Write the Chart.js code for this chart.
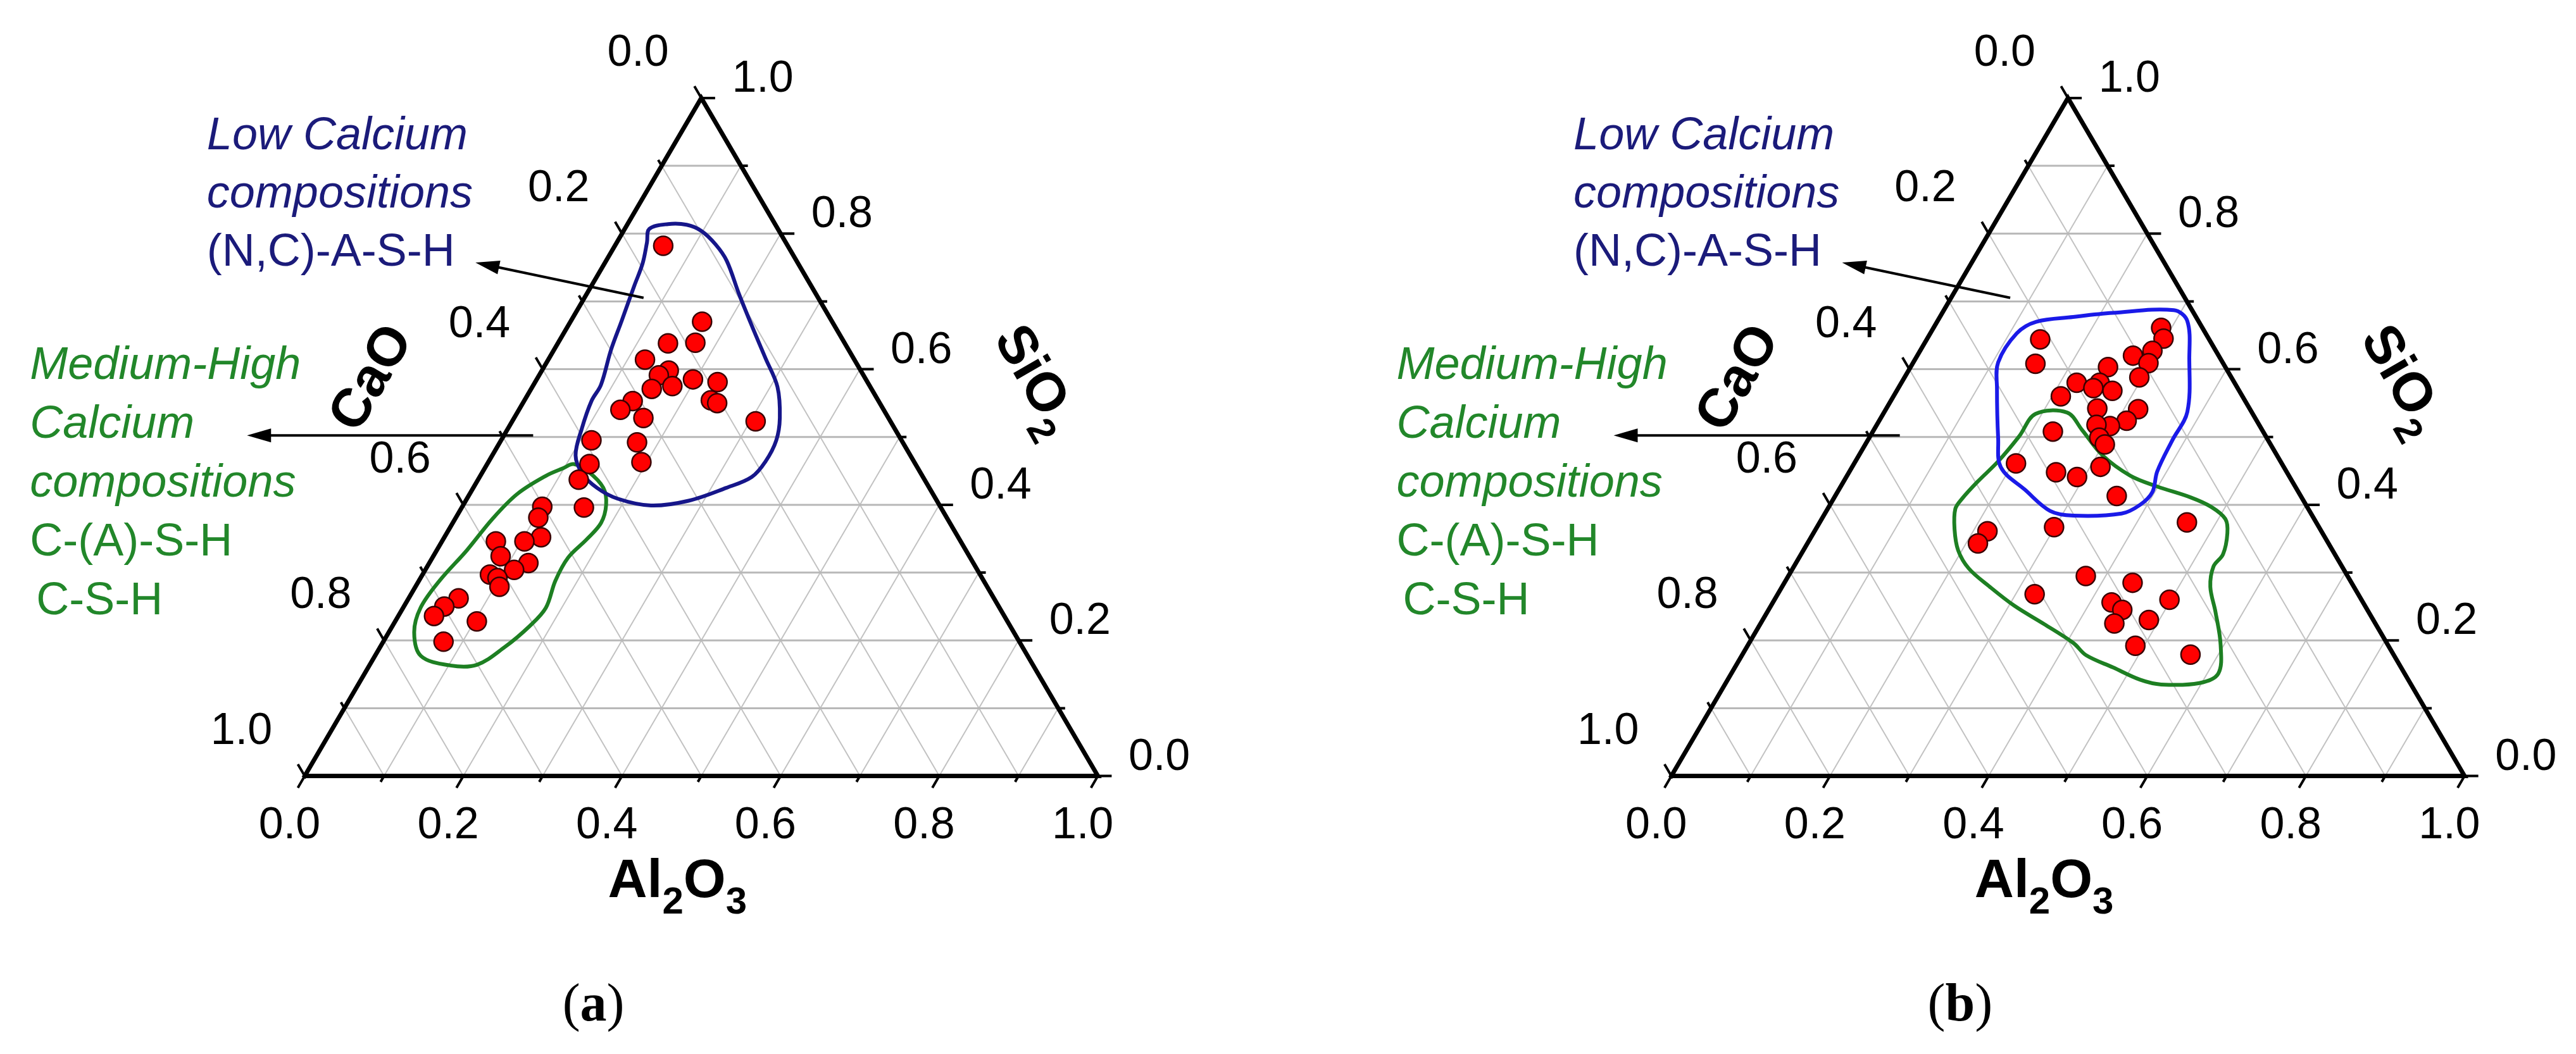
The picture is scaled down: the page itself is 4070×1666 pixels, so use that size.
<!DOCTYPE html>
<html lang="en">
<head>
    <meta charset="UTF-8" />
    <title>Ternary diagrams CaO - SiO2 - Al2O3</title>
    <script src="https://cdn.jsdelivr.net/npm/chart.js"></script>
    <style>
        * { box-sizing: border-box; margin: 0; padding: 0; }
        body { background: #fff; width: 4070px; height: 1666px; overflow: hidden; }
        #wrap { position: absolute; left: 0; top: 0; width: 4070px; height: 1666px; }
    </style>
</head>
<body>
<div id="wrap"><canvas id="ternary" width="4070" height="1666"></canvas></div>
<script>
    // ---- data (mass fractions, CaO = 1 - Al2O3 - SiO2) ----
    const gridSteps = [0.1, 0.2, 0.3, 0.4, 0.5, 0.6, 0.7, 0.8, 0.9];
    const tickSteps = [0, 0.1, 0.2, 0.3, 0.4, 0.5, 0.6, 0.7, 0.8, 0.9, 1.0];
    const majorTicks = [0, 0.2, 0.4, 0.6, 0.8, 1.0];
    const tickLabels = ['0.0', '0.2', '0.4', '0.6', '0.8', '1.0'];
    const panelNames = ['(a)', '(b)'];

    // panel (a) samples
    const aAl2O3 = [0.061, 0.166, 0.139, 0.173, 0.122, 0.160, 0.151, 0.176, 0.152, 0.197, 0.230, 0.235, 0.245, 0.137, 0.128, 0.163, 0.307, 0.114, 0.173, 0.193, 0.129, 0.127, 0.154, 0.101, 0.104, 0.122, 0.104, 0.068, 0.085, 0.125, 0.112, 0.085, 0.097, 0.106, 0.063, 0.051, 0.045, 0.103, 0.076];
    const aSiO2 = [0.782, 0.670, 0.638, 0.639, 0.614, 0.598, 0.591, 0.575, 0.571, 0.585, 0.581, 0.554, 0.550, 0.553, 0.540, 0.528, 0.523, 0.495, 0.492, 0.463, 0.460, 0.437, 0.396, 0.397, 0.381, 0.352, 0.346, 0.346, 0.324, 0.314, 0.304, 0.297, 0.292, 0.279, 0.262, 0.250, 0.236, 0.228, 0.198];

    // panel (b) samples
    const bAl2O3 = [0.287, 0.298, 0.293, 0.272, 0.297, 0.296, 0.249, 0.143, 0.155, 0.221, 0.250, 0.272, 0.246, 0.211, 0.266, 0.318, 0.312, 0.295, 0.277, 0.290, 0.302, 0.227, 0.204, 0.261, 0.291, 0.313, 0.355, 0.299, 0.463, 0.218, 0.215, 0.375, 0.324, 0.439, 0.427, 0.446, 0.446, 0.487, 0.498, 0.489, 0.565];
    const bSiO2 = [0.661, 0.645, 0.627, 0.620, 0.609, 0.588, 0.603, 0.644, 0.608, 0.580, 0.580, 0.568, 0.572, 0.560, 0.542, 0.541, 0.524, 0.516, 0.518, 0.499, 0.489, 0.508, 0.461, 0.448, 0.441, 0.456, 0.413, 0.367, 0.374, 0.361, 0.343, 0.295, 0.268, 0.285, 0.256, 0.245, 0.225, 0.230, 0.260, 0.192, 0.179];

    // hand drawn regions
    const aLowCaAl2O3 = [0.031, 0.051, 0.075, 0.098, 0.126, 0.152, 0.192, 0.236, 0.273, 0.309, 0.335, 0.347, 0.349, 0.343, 0.319, 0.281, 0.237, 0.190, 0.156, 0.127, 0.105, 0.093, 0.085, 0.085, 0.072, 0.064, 0.054, 0.048, 0.038];
    const aLowCaSiO2 = [0.807, 0.814, 0.813, 0.804, 0.784, 0.760, 0.711, 0.659, 0.616, 0.574, 0.528, 0.495, 0.464, 0.441, 0.425, 0.406, 0.399, 0.409, 0.425, 0.446, 0.473, 0.513, 0.553, 0.577, 0.628, 0.671, 0.723, 0.756, 0.787];
    const aHighCaAl2O3 = [0.109, 0.133, 0.164, 0.180, 0.187, 0.181, 0.171, 0.172, 0.180, 0.173, 0.157, 0.135, 0.102, 0.058, 0.032, 0.022, 0.026, 0.038, 0.047, 0.060, 0.083, 0.099];
    const aHighCaSiO2 = [0.460, 0.449, 0.425, 0.400, 0.373, 0.349, 0.322, 0.288, 0.248, 0.221, 0.190, 0.164, 0.163, 0.177, 0.212, 0.248, 0.288, 0.333, 0.379, 0.416, 0.443, 0.454];
    const bLowCaAl2O3 = [0.125, 0.168, 0.215, 0.290, 0.315, 0.345, 0.382, 0.384, 0.388, 0.397, 0.391, 0.374, 0.315, 0.282, 0.235, 0.188, 0.163, 0.125, 0.107, 0.109];
    const bLowCaSiO2 = [0.670, 0.677, 0.683, 0.687, 0.671, 0.616, 0.537, 0.495, 0.449, 0.419, 0.400, 0.387, 0.384, 0.391, 0.422, 0.455, 0.498, 0.571, 0.610, 0.653];
    const bHighCaAl2O3 = [0.192, 0.231, 0.263, 0.307, 0.357, 0.399, 0.449, 0.482, 0.509, 0.522, 0.532, 0.529, 0.540, 0.565, 0.596, 0.614, 0.597, 0.550, 0.520, 0.477, 0.434, 0.409, 0.358, 0.307, 0.262, 0.222, 0.195, 0.175, 0.161, 0.162, 0.169, 0.180, 0.188];
    const bHighCaSiO2 = [0.534, 0.536, 0.510, 0.473, 0.443, 0.427, 0.411, 0.397, 0.379, 0.358, 0.327, 0.309, 0.279, 0.242, 0.193, 0.151, 0.137, 0.135, 0.142, 0.160, 0.178, 0.196, 0.224, 0.251, 0.279, 0.306, 0.333, 0.364, 0.394, 0.409, 0.434, 0.464, 0.501];

    // ---- layout ----
    const PX = 1264;              // triangle side in px
    const X0 = 468, Y0 = 1235;    // bottom-left corner of panel (a)
    const W = 4070, HGT = 1666;
    const H = Math.sqrt(3) / 2;
    const PANEL_SHIFT = [0, 2178 / PX];
    const SANS = '"Liberation Sans", Arial, sans-serif';
    const SERIF = '"Liberation Serif", "Times New Roman", serif';
    const NAVY = '#1b1b7a';
    const GREEN = '#22872a';
    const L_MAJOR = 22 / PX, L_MINOR = 11 / PX;

    // annotation positions, in triangle-side units from the panel's bottom-left corner
    const notes = [
        { text: 'Low Calcium', u: -0.1234, v: 0.8006, color: NAVY, italic: true },
        { text: 'compositions', u: -0.1234, v: 0.7263, color: NAVY, italic: true },
        { text: '(N,C)-A-S-H', u: -0.1234, v: 0.6519, color: NAVY, italic: false },
        { text: 'Medium-High', u: -0.3465, v: 0.5071, color: GREEN, italic: true },
        { text: 'Calcium', u: -0.3465, v: 0.4320, color: GREEN, italic: true },
        { text: 'compositions', u: -0.3465, v: 0.3568, color: GREEN, italic: true },
        { text: 'C-(A)-S-H', u: -0.3465, v: 0.2816, color: GREEN, italic: false },
        { text: 'C-S-H', u: -0.3386, v: 0.2065, color: GREEN, italic: false }
    ];
    const arrows = [
        { from: [0.4272, 0.6108], to: [0.2152, 0.6559] },
        { from: [0.2880, 0.4351], to: [-0.0728, 0.4351] }
    ];

    function tern(al, si, p) { return { x: PANEL_SHIFT[p] + al + si / 2, y: si * H }; }
    function gap() { return { x: null, y: null }; }

    function loopSet(al, si, p, color) {
        const pts = al.map((a, i) => tern(a, si[i], p));
        const n = pts.length;
        const data = [{ ...pts[n - 1] }, ...pts, { ...pts[0] }, { ...pts[1] }];
        const last = data.length - 1;
        return {
            type: 'line', data, borderColor: color, borderWidth: 6, tension: 0.35,
            pointRadius: 0, borderCapStyle: 'round', borderJoinStyle: 'round', order: 3,
            segment: {
                borderColor: c => (c.p0DataIndex === 0 || c.p1DataIndex === last) ? 'rgba(0,0,0,0)' : undefined
            }
        };
    }

    function pointSet(al, si, p) {
        return {
            type: 'scatter', data: al.map((a, i) => tern(a, si[i], p)),
            pointRadius: 15, pointBackgroundColor: '#ff0000', pointBorderColor: '#3a0000',
            pointBorderWidth: 2.5, order: 1
        };
    }

    const panels = [
        { al: aAl2O3, si: aSiO2, lowAl: aLowCaAl2O3, lowSi: aLowCaSiO2, lowColor: '#16168a', hiAl: aHighCaAl2O3, hiSi: aHighCaSiO2 },
        { al: bAl2O3, si: bSiO2, lowAl: bLowCaAl2O3, lowSi: bLowCaSiO2, lowColor: '#1a1ae8', hiAl: bHighCaAl2O3, hiSi: bHighCaSiO2 }
    ];

    const datasets = [];
    panels.forEach((pn, p) => {
        const horiz = [], diag = [], tk = [];
        gridSteps.forEach(t => {
            horiz.push(tern(0, t, p), tern(1 - t, t, p), gap());
            diag.push(tern(t, 0, p), tern(t, 1 - t, p), gap());
            diag.push(tern(1 - t, 0, p), tern(0, 1 - t, p), gap());
        });
        tickSteps.forEach((t, i) => {
            const L = i % 2 === 0 ? L_MAJOR : L_MINOR;
            let q = tern(t, 0, p);
            tk.push(q, { x: q.x - 0.5 * L, y: q.y - H * L }, gap());
            q = tern(1 - t, t, p);
            tk.push(q, { x: q.x + L, y: q.y }, gap());
            q = tern(0, 1 - t, p);
            tk.push(q, { x: q.x - 0.5 * L, y: q.y + H * L }, gap());
        });
        datasets.push({ type: 'line', data: horiz, borderColor: '#b8b8b8', borderWidth: 3, pointRadius: 0, order: 6 });
        datasets.push({ type: 'line', data: diag, borderColor: '#c2c2c2', borderWidth: 2, pointRadius: 0, order: 6 });
        datasets.push({ type: 'line', data: tk, borderColor: '#000', borderWidth: 4, pointRadius: 0, order: 4 });
        datasets.push({
            type: 'line', data: [tern(0, 0, p), tern(1, 0, p), tern(0, 1, p), tern(0, 0, p)],
            borderColor: '#000', borderWidth: 7, borderJoinStyle: 'miter', borderCapStyle: 'square', pointRadius: 0, order: 4
        });
        datasets.push(loopSet(pn.lowAl, pn.lowSi, p, pn.lowColor));
        datasets.push(loopSet(pn.hiAl, pn.hiSi, p, '#1d7f22'));
        arrows.forEach(ar => {
            const dx = ar.from[0] - ar.to[0], dy = ar.from[1] - ar.to[1];
            const len = Math.hypot(dx, dy), cut = 20 / PX;
            datasets.push({
                type: 'line',
                data: [
                    { x: PANEL_SHIFT[p] + ar.from[0], y: ar.from[1] },
                    { x: PANEL_SHIFT[p] + ar.to[0] + dx / len * cut, y: ar.to[1] + dy / len * cut }
                ],
                borderColor: '#000', borderWidth: 4, pointRadius: 0, order: 2
            });
        });
        datasets.push(pointSet(pn.al, pn.si, p));
    });

    function drawChem(ctx, parts, cx, cy, angle, size) {
        const big = `bold ${size}px ${SANS}`;
        const small = `bold ${Math.round(size * 0.7)}px ${SANS}`;
        ctx.save();
        ctx.translate(cx, cy);
        ctx.rotate(angle);
        ctx.textAlign = 'left';
        ctx.textBaseline = 'alphabetic';
        let w = 0;
        parts.forEach(([t, sub]) => { ctx.font = sub ? small : big; w += ctx.measureText(t).width; });
        let x = -w / 2;
        const base = size * 0.358;
        parts.forEach(([t, sub]) => {
            ctx.font = sub ? small : big;
            ctx.fillText(t, x, sub ? base + size * 0.31 : base);
            x += ctx.measureText(t).width;
        });
        ctx.restore();
    }

    const overlay = {
        id: 'ternaryText',
        afterDatasetsDraw(chart) {
            const ctx = chart.ctx;
            const sx = chart.scales.x, sy = chart.scales.y;
            const px = q => [sx.getPixelForValue(q.x), sy.getPixelForValue(q.y)];
            PANEL_SHIFT.forEach((shift, p) => {
                const loc = (u, v) => px({ x: shift + u, y: v });
                ctx.save();
                ctx.fillStyle = '#000';
                ctx.font = `70px ${SANS}`;
                ctx.textAlign = 'center';
                ctx.textBaseline = 'alphabetic';
                majorTicks.forEach((t, i) => {
                    const lab = tickLabels[i];
                    let [x, y] = px(tern(t, 0, p));
                    ctx.fillText(lab, x - 24, y + 73 + 25);
                    [x, y] = px(tern(1 - t, t, p));
                    ctx.fillText(lab, x + 97, y - 35 + 25);
                    [x, y] = px(tern(0, 1 - t, p));
                    ctx.fillText(lab, x - 100, y - 76 + 25);
                });

                // axis titles
                let [cx, cy] = loc(0.0807, 0.5103);
                drawChem(ctx, [['CaO', false]], cx, cy, -Math.PI / 3, 86);
                [cx, cy] = loc(0.9256, 0.5079);
                drawChem(ctx, [['SiO', false], ['2', true]], cx, cy, Math.PI / 3, 86);
                [cx, cy] = loc(0.4699, -0.1297);
                drawChem(ctx, [['Al', false], ['2', true], ['O', false], ['3', true]], cx, cy, 0, 86);

                // notes
                ctx.textAlign = 'left';
                notes.forEach(n => {
                    const [x, y] = loc(n.u, n.v);
                    ctx.fillStyle = n.color;
                    ctx.font = `${n.italic ? 'italic ' : ''}72px ${SANS}`;
                    ctx.fillText(n.text, x, y);
                });

                // arrow heads
                ctx.fillStyle = '#000';
                arrows.forEach(ar => {
                    const [x0, y0] = loc(ar.from[0], ar.from[1]);
                    const [x1, y1] = loc(ar.to[0], ar.to[1]);
                    const a = Math.atan2(y1 - y0, x1 - x0);
                    const len = 38, half = 11;
                    ctx.beginPath();
                    ctx.moveTo(x1, y1);
                    ctx.lineTo(x1 - len * Math.cos(a) + half * Math.sin(a), y1 - len * Math.sin(a) - half * Math.cos(a));
                    ctx.lineTo(x1 - len * Math.cos(a) - half * Math.sin(a), y1 - len * Math.sin(a) + half * Math.cos(a));
                    ctx.closePath();
                    ctx.fill();
                });

                // panel letter
                const [lx, ly] = loc(0.364, -0.3125);
                const name = panelNames[p];
                const pieces = [[name[0], `84px ${SERIF}`], [name[1], `bold 84px ${SERIF}`], [name[2], `84px ${SERIF}`]];
                let tw = 0;
                pieces.forEach(([t, f]) => { ctx.font = f; tw += ctx.measureText(t).width; });
                let x = lx - tw / 2;
                pieces.forEach(([t, f]) => { ctx.font = f; ctx.fillText(t, x, ly); x += ctx.measureText(t).width; });
                ctx.restore();
            });
        }
    };

    new Chart(document.getElementById('ternary'), {
        type: 'line',
        data: { datasets },
        options: {
            responsive: false,
            animation: false,
            devicePixelRatio: 1,
            events: [],
            layout: { padding: 0 },
            plugins: { legend: { display: false }, tooltip: { enabled: false } },
            scales: {
                x: { type: 'linear', min: -X0 / PX, max: (W - X0) / PX, display: false },
                y: { type: 'linear', min: -(HGT - Y0) / PX, max: Y0 / PX, display: false }
            }
        },
        plugins: [overlay]
    });
</script>
</body>
</html>
